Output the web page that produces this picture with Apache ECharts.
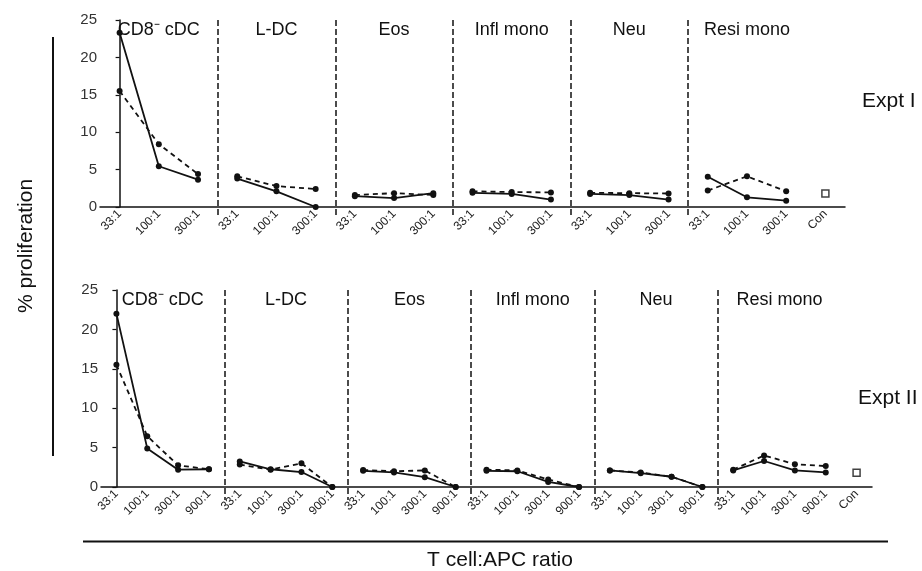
<!DOCTYPE html>
<html>
<head>
<meta charset="utf-8">
<script src="https://cdn.jsdelivr.net/npm/echarts@6/dist/echarts.min.js"></script>
<style>
html, body { margin: 0; padding: 0; background: #fff; }
#main { width: 922px; height: 571px; }
</style>
</head>
<body>
<div id="main"></div>
<script>
// cell types and ratios
var groups = ['CD8\u207B cDC', 'L-DC', 'Eos', 'Infl mono', 'Neu', 'Resi mono'];
var ratios1 = ['33:1', '100:1', '300:1'];
var ratios2 = ['33:1', '100:1', '300:1', '900:1'];
var yTicks = [0, 5, 10, 15, 20, 25];

// Expt I (% proliferation), one row per group
var expt1Solid = [
	[23.3, 5.45, 3.65],
	[3.8, 2.1, 0],
	[1.45, 1.2, 1.85],
	[1.9, 1.75, 1.0],
	[1.75, 1.6, 1.0],
	[4.05, 1.3, 0.85]
];
var expt1Dashed = [
	[15.5, 8.4, 4.4],
	[4.1, 2.8, 2.4],
	[1.6, 1.85, 1.6],
	[2.1, 2.0, 1.95],
	[1.9, 1.85, 1.8],
	[2.2, 4.1, 2.1]
];
var expt1Con = 1.8;

// Expt II
var expt2Solid = [
	[22.0, 4.9, 2.2, 2.25],
	[3.25, 2.25, 1.9, 0],
	[2.05, 1.85, 1.25, 0],
	[2.05, 2.0, 0.65, 0],
	[2.1, 1.75, 1.3, 0],
	[2.1, 3.3, 2.1, 1.85]
];
var expt2Dashed = [
	[15.5, 6.45, 2.75, 2.25],
	[2.85, 2.2, 3.0, 0],
	[2.15, 2.0, 2.1, 0],
	[2.2, 2.1, 0.95, 0],
	[2.1, 1.85, 1.3, 0],
	[2.2, 4.0, 2.9, 2.65]
];
var expt2Con = 1.8;

var FONT = '"Liberation Sans", Arial, Helvetica, sans-serif';
var INK = '#111';

function categories(ratios) {
	var c = [];
	groups.forEach(function () { c = c.concat(ratios); });
	c.push('Con');
	return c;
}

function bottomAxis(gridIndex, ratios) {
	return {
		type : 'category',
		gridIndex : gridIndex,
		position : 'bottom',
		data : categories(ratios),
		boundaryGap : true,
		axisLine : { lineStyle : { color : INK, width : 1.5 } },
		axisTick : { alignWithLabel : true, length : 5, lineStyle : { color : INK, width : 1.2 } },
		axisLabel : { rotate : 45, margin : 5, fontSize : 12, color : '#222', fontFamily : FONT, interval : 0 },
		splitLine : { show : false }
	};
}

// top overlay axis: group names and dashed separators
function topAxis(gridIndex, n, sepLength) {
	var total = groups.length * n + 1;
	var centers = groups.map(function (g, i) { return i * n + (n - 1) / 2; });
	var seps = [];
	for (var i = 1; i < groups.length; i++) seps.push(i * n - 0.5);
	return {
		type : 'value',
		gridIndex : gridIndex,
		position : 'top',
		min : -0.5,
		max : total - 0.5,
		axisLine : { show : false, onZero : false },
		axisTick : {
			show : true, inside : true, length : sepLength, customValues : seps,
			lineStyle : { color : INK, width : 1.5, type : [6, 3] }
		},
		axisLabel : {
			show : true, inside : true, margin : 1, customValues : centers,
			fontSize : 18, color : INK, fontFamily : FONT,
			formatter : function (v) {
				return groups[Math.round((v - (n - 1) / 2) / n)];
			}
		},
		splitLine : { show : false }
	};
}

function yAxis(gridIndex) {
	return {
		type : 'value',
		gridIndex : gridIndex,
		min : yTicks[0],
		max : yTicks[yTicks.length - 1],
		interval : 5,
		axisLine : { show : true, lineStyle : { color : INK, width : 1.5 } },
		axisTick : { show : true, length : 4, lineStyle : { color : INK, width : 1.2 } },
		axisLabel : { fontSize : 15, color : '#333', fontFamily : FONT, margin : 3 },
		splitLine : { show : false }
	};
}

function buildSeries(solid, dashed, con, n, xIdx, yIdx) {
	var total = groups.length * n + 1;
	var out = [];
	groups.forEach(function (g, gi) {
		[solid, dashed].forEach(function (arr, si) {
			var data = [];
			for (var k = 0; k < total; k++) data.push('-');
			arr[gi].forEach(function (v, k) { data[gi * n + k] = v; });
			out.push({
				type : 'line',
				xAxisIndex : xIdx,
				yAxisIndex : yIdx,
				data : data,
				symbol : 'circle',
				symbolSize : 6,
				connectNulls : false,
				z : si === 0 ? 3 : 2,
				itemStyle : { color : INK },
				lineStyle : { color : INK, width : 1.8, type : si === 0 ? 'solid' : [5, 4] }
			});
		});
	});
	var conData = [];
	for (var k = 0; k < total; k++) conData.push('-');
	conData[total - 1] = con;
	out.push({
		type : 'scatter',
		xAxisIndex : xIdx,
		yAxisIndex : yIdx,
		data : conData,
		symbol : 'rect',
		symbolSize : 7,
		itemStyle : { color : '#fff', borderColor : INK, borderWidth : 1.5 }
	});
	return out;
}

var myChart = echarts.init(document.getElementById('main'));

myChart.setOption({
	animation : false,
	backgroundColor : '#fff',
	grid : [
		{ left : 100, top : 20, width : 745, height : 187 },
		{ left : 101, top : 290, width : 771, height : 197 }
	],
	xAxis : [
		bottomAxis(0, ratios1),
		topAxis(0, ratios1.length, 198),
		bottomAxis(1, ratios2),
		topAxis(1, ratios2.length, 210)
	],
	yAxis : [ yAxis(0), yAxis(1) ],
	series : buildSeries(expt1Solid, expt1Dashed, expt1Con, ratios1.length, 0, 0)
		.concat(buildSeries(expt2Solid, expt2Dashed, expt2Con, ratios2.length, 2, 1)),
	graphic : [
		{ type : 'text', x : 26, y : 246, rotation : Math.PI / 2,
			style : { text : '% proliferation', font : '21px ' + FONT, fill : INK, align : 'center', verticalAlign : 'middle' } },
		{ type : 'line', shape : { x1 : 53, y1 : 37, x2 : 53, y2 : 456 }, style : { stroke : INK, lineWidth : 2 } },
		{ type : 'text', x : 862, y : 101,
			style : { text : 'Expt I', font : '21px ' + FONT, fill : INK, align : 'left', verticalAlign : 'middle' } },
		{ type : 'text', x : 858, y : 398,
			style : { text : 'Expt II', font : '21px ' + FONT, fill : INK, align : 'left', verticalAlign : 'middle' } },
		{ type : 'line', shape : { x1 : 83, y1 : 541.5, x2 : 888, y2 : 541.5 }, style : { stroke : INK, lineWidth : 2 } },
		{ type : 'text', x : 500, y : 560,
			style : { text : 'T cell:APC ratio', font : '21px ' + FONT, fill : INK, align : 'center', verticalAlign : 'middle' } }
	]
});
</script>
</body>
</html>
